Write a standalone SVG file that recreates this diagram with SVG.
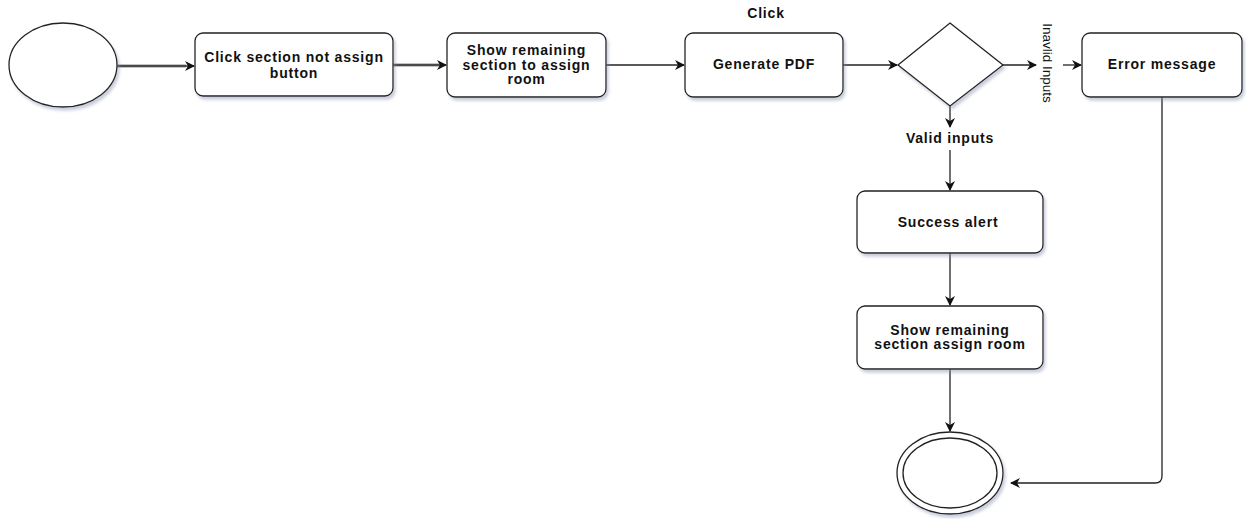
<svg xmlns="http://www.w3.org/2000/svg" width="1246" height="519" viewBox="0 0 1246 519">
  <defs>
    <marker id="arrow" viewBox="0 0 10 10" refX="9" refY="5" markerWidth="10" markerHeight="10" markerUnits="userSpaceOnUse" orient="auto">
      <path d="M0,0 L10,5 L0,10 L3,5 Z" fill="#111"/>
    </marker>
    <filter id="shadow" x="-10%" y="-10%" width="125%" height="135%">
      <feDropShadow dx="2" dy="3" stdDeviation="1.5" flood-color="#8a93b0" flood-opacity="0.45"/>
    </filter>
  </defs>
  <style>
    .box { fill: #fff; stroke: #222; stroke-width: 1.3; filter: url(#shadow); }
    .lbl { font-family: "Liberation Sans", Arial, sans-serif; font-size: 14px; font-weight: bold; letter-spacing: 0.8px; fill: #111; text-anchor: middle; }
    .edge { fill: none; stroke: #222; stroke-width: 1.3; marker-end: url(#arrow); }
    .dbl { stroke: #c4c4c4; stroke-width: 4; fill: none; }
  </style>
  <rect width="1246" height="519" fill="#fff"/>

  <g id="connectors">
    <line class="dbl" x1="117" y1="66" x2="186" y2="66"/>
    <line class="edge" x1="117" y1="66" x2="194" y2="66"/>
    <line class="dbl" x1="393" y1="65" x2="440" y2="65"/>
    <line class="edge" x1="393" y1="65" x2="446" y2="65"/>
    <line class="edge" x1="606" y1="65" x2="684" y2="65"/>
    <line class="edge" x1="843" y1="65" x2="897" y2="65"/>
    <line class="edge" x1="1003" y1="65" x2="1036" y2="65"/>
    <line class="edge" x1="1063" y1="65" x2="1081" y2="65"/>
    <line class="edge" x1="950" y1="106" x2="950" y2="127"/>
    <line class="edge" x1="950" y1="150" x2="950" y2="190"/>
    <line class="edge" x1="950" y1="253" x2="950" y2="305"/>
    <line class="edge" x1="950" y1="369" x2="950" y2="431"/>
    <path class="edge" d="M1162,97 L1162,476 Q1162,483 1155,483 L1011,483"/>
  </g>

  <g id="start">
    <ellipse class="box" cx="63" cy="65" rx="54" ry="42"/>
  </g>

  <g id="click-section">
    <rect class="box" x="195" y="33" width="198" height="63" rx="8"/>
    <text class="lbl" x="294" y="62">Click section not assign</text>
    <text class="lbl" x="294" y="78">button</text>
  </g>

  <g id="show-remaining">
    <rect class="box" x="447" y="33" width="159" height="64" rx="8"/>
    <text class="lbl" x="526.5" y="55">Show remaining</text>
    <text class="lbl" x="526.5" y="69.5">section to assign</text>
    <text class="lbl" x="526.5" y="84">room</text>
  </g>

  <g id="generate-pdf">
    <text class="lbl" x="766" y="18">Click</text>
    <rect class="box" x="685" y="33" width="158" height="64" rx="8"/>
    <text class="lbl" x="764" y="69">Generate PDF</text>
  </g>

  <g id="decision">
    <polygon class="box" points="950,23 1003,65 950,106 898,65"/>
    <text class="lbl" x="950" y="143">Valid inputs</text>
    <text font-family="Liberation Sans, Arial, sans-serif" font-size="13.5" fill="#111" text-anchor="middle" transform="translate(1043,63) rotate(90)">Inavlid Inputs</text>
  </g>

  <g id="error-message">
    <rect class="box" x="1082" y="33" width="160" height="64" rx="8"/>
    <text class="lbl" x="1162" y="69">Error message</text>
  </g>

  <g id="success-alert">
    <rect class="box" x="857" y="191" width="186" height="62" rx="8"/>
    <text class="lbl" x="948" y="227">Success alert</text>
  </g>

  <g id="show-remaining-assign">
    <rect class="box" x="857" y="306" width="186" height="63" rx="8"/>
    <text class="lbl" x="950" y="335">Show remaining</text>
    <text class="lbl" x="950" y="349">section assign room</text>
  </g>

  <g id="end">
    <ellipse class="box" cx="950" cy="473" rx="53" ry="41"/>
    <ellipse cx="950" cy="473" rx="47" ry="35" fill="none" stroke="#222" stroke-width="1.3"/>
  </g>
</svg>
